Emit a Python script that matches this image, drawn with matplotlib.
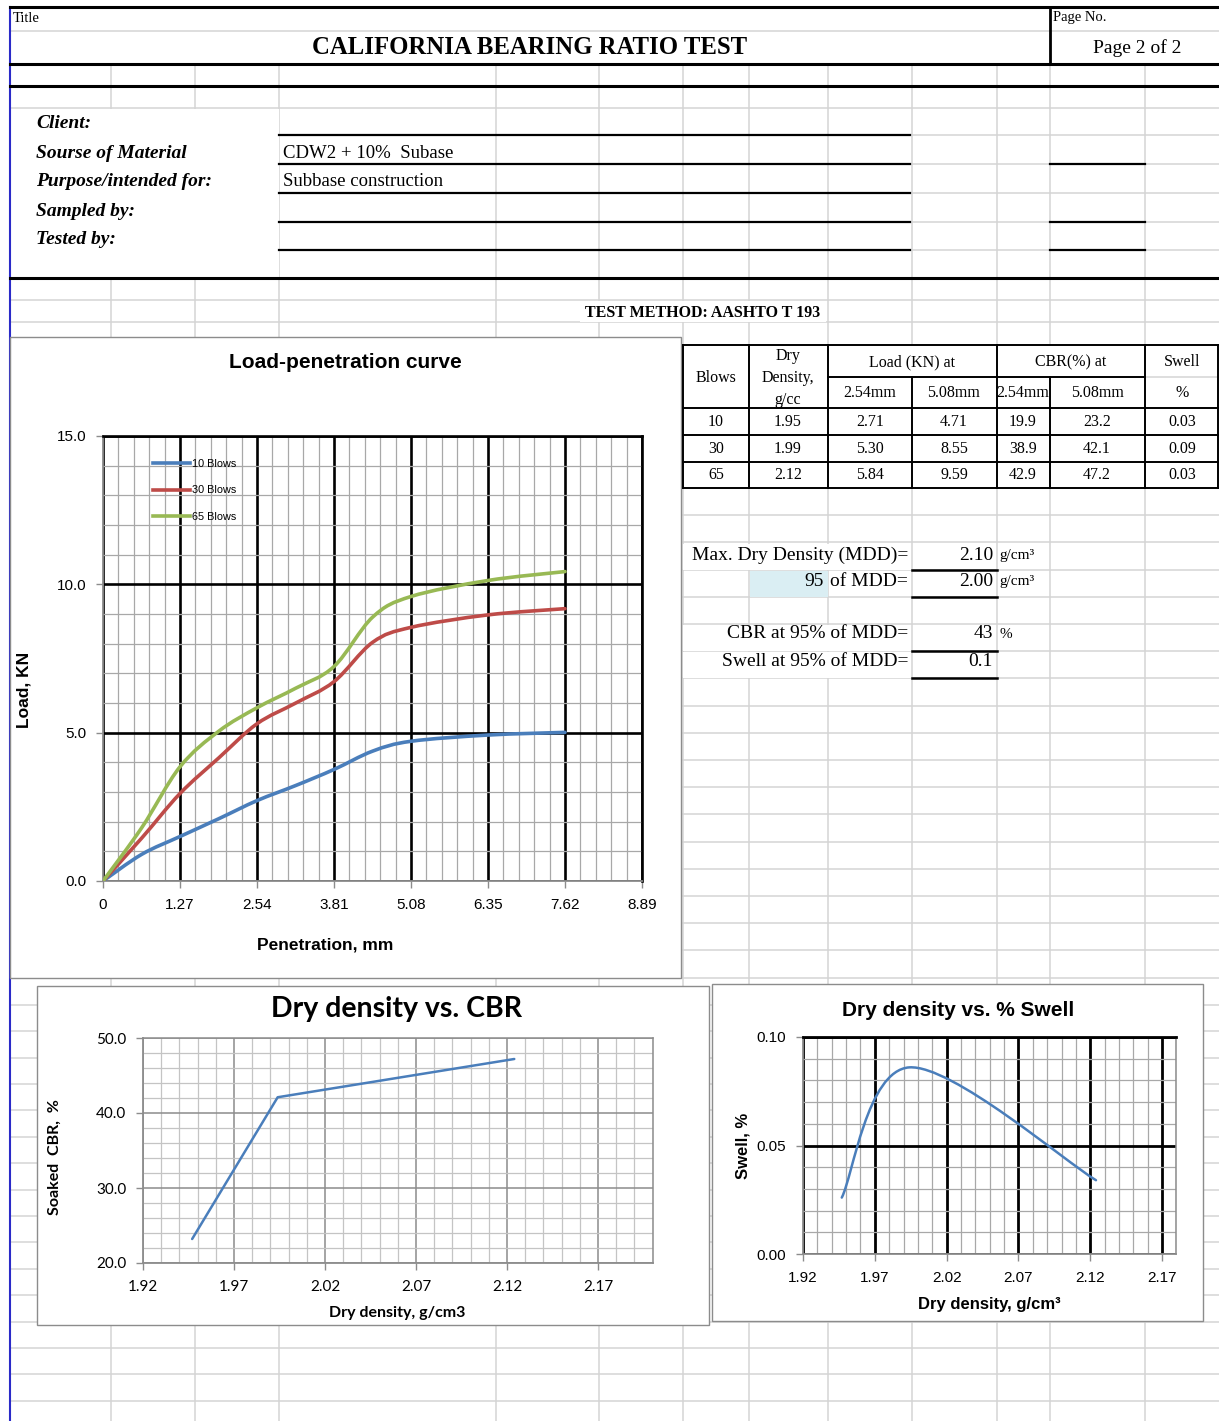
import numpy as np
import matplotlib
matplotlib.use("Agg")
import matplotlib.pyplot as plt
from matplotlib.path import Path
from matplotlib.patches import PathPatch, Rectangle
from matplotlib.lines import Line2D
from matplotlib.ticker import MultipleLocator, FixedLocator

# ---------------- data ----------------
blows = [10, 30, 65]
dry_density = [1.947, 1.994, 2.124]          # g/cc
load_254 = [2.71, 5.30, 5.84]                # kN at 2.54 mm
load_508 = [4.71, 8.55, 9.59]                # kN at 5.08 mm
cbr_254 = [19.9, 38.9, 42.9]                 # %
cbr_508 = [23.2, 42.1, 47.2]                 # %
swell = [0.026, 0.086, 0.034]                # %

penetration = [0, 0.64, 1.27, 1.91, 2.54, 3.18, 3.81, 4.45, 5.08, 6.35, 7.62]
load_10 = [0, 0.90, 1.50, 2.10, 2.71, 3.22, 3.76, 4.38, 4.71, 4.92, 5.01]
load_30 = [0, 1.45, 2.95, 4.15, 5.30, 6.00, 6.72, 8.05, 8.55, 8.97, 9.18]
load_65 = [0, 1.80, 3.85, 5.05, 5.84, 6.50, 7.23, 8.90, 9.59, 10.13, 10.43]
series_labels = ["10 Blows", "30 Blows", "65 Blows"]

pen_ticks = [0, 1.27, 2.54, 3.81, 5.08, 6.35, 7.62, 8.89]
pen_ticklabels = ["0", "1.27", "2.54", "3.81", "5.08", "6.35", "7.62", "8.89"]
load_ticks = [0, 5, 10, 15]
dens_ticks = [1.92, 1.97, 2.02, 2.07, 2.12, 2.17]
cbr_ticks = [20, 30, 40, 50]
swell_ticks = [0.0, 0.05, 0.10]

mdd = 2.10
mdd_pct = 95
mdd_95 = 2.00
cbr_at_95 = 43
swell_at_95 = 0.1

# ---------------- styles ----------------
W, H = 1219, 1421
SERIF = "Liberation Serif"
SANS = "Liberation Sans"
CAL = "Lato"
GRID = "#d4d4d4"
BLUE, RED, GREEN = "#4A7EBB", "#BE4B48", "#98B954"

fig = plt.figure(figsize=(W / 100, H / 100), dpi=100)
bg = fig.add_axes([0, 0, 1, 1])
bg.set_xlim(0, W)
bg.set_ylim(H, 0)
bg.axis("off")


def box(x0, y0, x1, y1):
    return [x0 / W, 1 - y1 / H, (x1 - x0) / W, (y1 - y0) / H]


def excel_smooth(x, y):
    pts = np.column_stack([x, y]).astype(float)
    n = len(pts)
    verts = [pts[0]]
    codes = [Path.MOVETO]
    for i in range(n - 1):
        p0 = pts[i - 1] if i > 0 else pts[i]
        p1, p2 = pts[i], pts[i + 1]
        p3 = pts[i + 2] if i + 2 < n else pts[i + 1]
        verts += [p1 + (p2 - p0) / 6, p2 - (p3 - p1) / 6, p2]
        codes += [Path.CURVE4] * 3
    return Path(verts, codes)


# ---------------- worksheet grid ----------------
cols = [111, 195, 279, 496, 599, 683, 749, 828, 912, 997, 1050, 1145]
rows = [31, 108, 300, 322]
r = 488.0
while r < 978:
    r += 27.2
    rows.append(r)
r = rows[-1]
while r < H:
    r += 26.4
    rows.append(r)
for c in cols:
    bg.plot([c, c], [7, H], color=GRID, lw=1.1, zorder=1)
for y in rows:
    bg.plot([10, W], [y, y], color=GRID, lw=1.1, zorder=1)
for y in [135, 164, 193, 222, 250]:
    bg.plot([279, W], [y, y], color=GRID, lw=1.1, zorder=1)

# blank areas where cells are merged or text overflows
masks = [(10, 7, W, 64), (10, 108.6, 279, 278), (683, 345, W, 488),
         (580, 301, 826, 321.5), (683, 544, 911, 569.5), (683, 625, 911, 650.5),
         (683, 652, 911, 677.5)]
for x0, y0, x1, y1 in masks:
    bg.add_patch(Rectangle((x0, y0), x1 - x0, y1 - y0, fc="white", ec="none", zorder=2))
bg.plot([10, W], [31, 31], color=GRID, lw=1.1, zorder=2.5)
bg.add_patch(Rectangle((750, 570.5), 78, 26.5, fc="#DAEEF3", ec="none", zorder=2.2))

# left sheet border
bg.plot([10, 10], [7, H], color="#2a2ac8", lw=1.5, zorder=2.6)

# heavy rules
for y in [7, 64, 86, 278]:
    bg.plot([10, W], [y, y], color="black", lw=2.2, zorder=4)
bg.plot([1050, 1050], [7, 64], color="black", lw=2.0, zorder=4)
for y in [135, 164, 193, 222, 250]:
    bg.plot([279, 910], [y, y], color="black", lw=1.6, zorder=4)
for y in [164, 222, 250]:
    bg.plot([1050, 1145], [y, y], color="black", lw=1.6, zorder=4)
for y in [570, 597, 651, 678]:
    bg.plot([912, 997], [y, y], color="black", lw=1.8, zorder=4)

# header texts
bg.text(13, 18, "Title", family=SERIF, fontsize=10.5, va="center", zorder=5)
bg.text(1053, 18, "Page No.", family=SERIF, fontsize=10.5, va="center", zorder=5)
bg.text(530, 48, "CALIFORNIA BEARING RATIO TEST", family=SERIF, fontsize=17.8,
        weight="bold", ha="center", va="center", zorder=5)
bg.text(1137, 48, "Page 2 of 2", family=SERIF, fontsize=14, ha="center", va="center", zorder=5)

form_labels = ["Client:", "Sourse of Material", "Purpose/intended for:", "Sampled by:", "Tested by:"]
form_values = ["", "CDW2 + 10%  Subase", "Subbase construction", "", ""]
for i, (lab, val) in enumerate(zip(form_labels, form_values)):
    y = 124 + 29 * i
    bg.text(36, y, lab, family=SERIF, fontsize=14, weight="bold", style="italic",
            va="center", zorder=5)
    if val:
        bg.text(283, y, val, family=SERIF, fontsize=13.5, va="center", zorder=5)

bg.text(703, 313, "TEST METHOD: AASHTO T 193", family=SERIF, fontsize=11.5,
        weight="bold", ha="center", va="center", zorder=5)

# ---------------- results table ----------------
tk = dict(color="black", lw=1.4, zorder=4)
for y in [345, 408, 435, 462, 488]:
    bg.plot([683, 1218], [y, y], **tk)
bg.plot([828, 1145], [377, 377], **tk)
bg.plot([1145, 1218], [377, 377], color=GRID, lw=1.1, zorder=4)
for x in [683, 749, 828, 997, 1145, 1218]:
    bg.plot([x, x], [345, 488], **tk)
for x in [912, 1050]:
    bg.plot([x, x], [377, 488], **tk)

tf = dict(family=SERIF, fontsize=11.5, ha="center", va="center", zorder=5)
bg.text(716, 378, "Blows", **tf)
bg.text(788, 356, "Dry", **tf)
bg.text(788, 378, "Density,", **tf)
bg.text(788, 400, "g/cc", **tf)
bg.text(912, 362, "Load (KN) at", **tf)
bg.text(1071, 362, "CBR(%) at", **tf)
bg.text(1182, 362, "Swell", **tf)
for x, t in zip([870, 954, 1023, 1097, 1182], ["2.54mm", "5.08mm", "2.54mm", "5.08mm", "%"]):
    bg.text(x, 393, t, **tf)
col_x = [716, 788, 870, 954, 1023, 1097, 1182]
for i in range(len(blows)):
    vals = [f"{blows[i]}", f"{dry_density[i]:.2f}", f"{load_254[i]:.2f}", f"{load_508[i]:.2f}",
            f"{cbr_254[i]:.1f}", f"{cbr_508[i]:.1f}", f"{swell[i]:.2f}"]
    for x, v in zip(col_x, vals):
        bg.text(x, 422 + 26.7 * i, v, **tf)

sf = dict(family=SERIF, fontsize=14, va="center", zorder=5)
bg.text(908, 555, "Max. Dry Density (MDD)=", ha="right", **sf)
bg.text(993, 555, f"{mdd:.2f}", ha="right", **sf)
bg.text(824, 582, f"{mdd_pct}", ha="right", **sf)
bg.text(908, 582, "of MDD=", ha="right", **sf)
bg.text(993, 582, f"{mdd_95:.2f}", ha="right", **sf)
bg.text(908, 634, "CBR at 95% of MDD=", ha="right", **sf)
bg.text(993, 634, f"{cbr_at_95}", ha="right", **sf)
bg.text(908, 661, "Swell at 95% of MDD=", ha="right", **sf)
bg.text(993, 661, f"{swell_at_95}", ha="right", **sf)
uf = dict(family=SERIF, fontsize=11, va="center", zorder=5)
bg.text(999, 555, "g/cm\u00b3", **uf)
bg.text(999, 582, "g/cm\u00b3", **uf)
bg.text(1000, 635, "%", **uf)

# ---------------- chart panels ----------------
for x0, y0, x1, y1 in [(10, 337, 681, 978), (37, 986, 709, 1325), (712, 984, 1203, 1321)]:
    bg.add_patch(Rectangle((x0, y0), x1 - x0, y1 - y0, fc="white", ec="#8c8c8c",
                           lw=1.0, zorder=3))


def style_axes(ax, major_col, major_lw, minor_col, tick_font, tick_size, pad):
    ax.set_axisbelow(True)
    ax.grid(which="minor", color=minor_col, lw=0.9)
    ax.grid(which="major", color=major_col, lw=major_lw)
    ax.tick_params(which="minor", length=0)
    ax.tick_params(which="major", length=5, width=1, color="#8c8c8c", direction="out", pad=pad)
    for lab in ax.get_xticklabels() + ax.get_yticklabels():
        lab.set_family(tick_font)
        lab.set_fontsize(tick_size)
    for s in ["left", "bottom"]:
        ax.spines[s].set_color("#8c8c8c")
        ax.spines[s].set_linewidth(1.3)


# Load-penetration curve
ax1 = fig.add_axes(box(103, 436, 642, 881))
ax1.set_xlim(0, 8.89)
ax1.set_ylim(0, 15)
ax1.xaxis.set_major_locator(FixedLocator(pen_ticks))
ax1.set_xticklabels(pen_ticklabels)
ax1.xaxis.set_minor_locator(MultipleLocator(0.254))
ax1.yaxis.set_major_locator(FixedLocator(load_ticks))
ax1.set_yticklabels([f"{v:.1f}" for v in load_ticks])
ax1.yaxis.set_minor_locator(MultipleLocator(1))
style_axes(ax1, "black", 1.9, "#a8a8a8", SANS, 11, 7)
for s in ["top", "right"]:
    ax1.spines[s].set_color("black")
    ax1.spines[s].set_linewidth(1.9)
handles = []
for ys, col, lab in zip([load_10, load_30, load_65], [BLUE, RED, GREEN], series_labels):
    ax1.add_patch(PathPatch(excel_smooth(penetration, ys), fill=False, ec=col, lw=2.6,
                            capstyle="round", joinstyle="round", zorder=3))
    handles.append(Line2D([], [], color=col, lw=2.6, label=lab))
ax1.legend(handles=handles, loc="upper left", bbox_to_anchor=(0.093, 0.949), frameon=False,
           borderpad=0, borderaxespad=0, handlelength=3.4, handletextpad=0.15,
           labelspacing=1.55, prop={"family": SANS, "size": 7.8, "stretch": "condensed"})
ax1.text(0.449, 1.166, "Load-penetration curve", transform=ax1.transAxes, ha="center",
         va="center", family=SANS, weight="bold", fontsize=15)
ax1.set_xlabel("Penetration, mm", family=SANS, weight="bold", fontsize=12.5, va="center")
ax1.xaxis.set_label_coords(0.412, -0.144)
ax1.set_ylabel("Load, KN", family=SANS, weight="bold", fontsize=12.5, va="center")
ax1.yaxis.set_label_coords(-0.1466, 0.429)

# Dry density vs. CBR
ax2 = fig.add_axes(box(143, 1038, 652.6, 1263))
ax2.set_xlim(1.92, 2.20)
ax2.set_ylim(20, 50)
ax2.xaxis.set_major_locator(FixedLocator(dens_ticks))
ax2.set_xticklabels([f"{v:.2f}" for v in dens_ticks])
ax2.xaxis.set_minor_locator(MultipleLocator(0.01))
ax2.yaxis.set_major_locator(FixedLocator(cbr_ticks))
ax2.set_yticklabels([f"{v:.1f}" for v in cbr_ticks])
ax2.yaxis.set_minor_locator(MultipleLocator(2))
style_axes(ax2, "#8c8c8c", 1.1, "#c4c4c4", CAL, 11, 7)
for s in ["top", "right"]:
    ax2.spines[s].set_color("#8c8c8c")
    ax2.spines[s].set_linewidth(1.1)
ax2.plot(dry_density, cbr_508, color=BLUE, lw=1.8, solid_capstyle="round", zorder=3)
ax2.text(0.4965, 1.129, "Dry density vs. CBR", transform=ax2.transAxes, ha="center",
         va="center", family=CAL, weight="bold", fontsize=20.5)
ax2.set_xlabel("Dry density, g/cm3", family=CAL, weight="bold", fontsize=11.5, va="center")
ax2.xaxis.set_label_coords(0.498, -0.222)
ax2.set_ylabel("Soaked  CBR,  %", family=CAL, weight="bold", fontsize=11.5, va="center")
ax2.yaxis.set_label_coords(-0.173, 0.471)

# Dry density vs. % Swell
ax3 = fig.add_axes(box(803, 1037, 1176.4, 1254))
ax3.set_xlim(1.92, 2.18)
ax3.set_ylim(0, 0.10)
ax3.xaxis.set_major_locator(FixedLocator(dens_ticks))
ax3.set_xticklabels([f"{v:.2f}" for v in dens_ticks])
ax3.xaxis.set_minor_locator(MultipleLocator(0.01))
ax3.yaxis.set_major_locator(FixedLocator(swell_ticks))
ax3.set_yticklabels([f"{v:.2f}" for v in swell_ticks])
ax3.yaxis.set_minor_locator(MultipleLocator(0.01))
style_axes(ax3, "black", 2.0, "#a8a8a8", SANS, 11, 7)
ax3.spines["top"].set_color("black")
ax3.spines["top"].set_linewidth(2.0)
ax3.spines["right"].set_color("#8c8c8c")
ax3.spines["right"].set_linewidth(1.1)
ax3.add_patch(PathPatch(excel_smooth(dry_density, swell), fill=False, ec=BLUE, lw=1.8,
                        capstyle="round", zorder=3))
ax3.text(0.415, 1.124, "Dry density vs. % Swell", transform=ax3.transAxes, ha="center",
         va="center", family=SANS, weight="bold", fontsize=15)
ax3.set_xlabel("Dry density, g/cm\u00b3", family=SANS, weight="bold", fontsize=12, va="center")
ax3.xaxis.set_label_coords(0.5, -0.235)
ax3.set_ylabel("Swell, %", family=SANS, weight="bold", fontsize=12, va="center")
ax3.yaxis.set_label_coords(-0.161, 0.498)

fig.savefig("out.png", dpi=100)
